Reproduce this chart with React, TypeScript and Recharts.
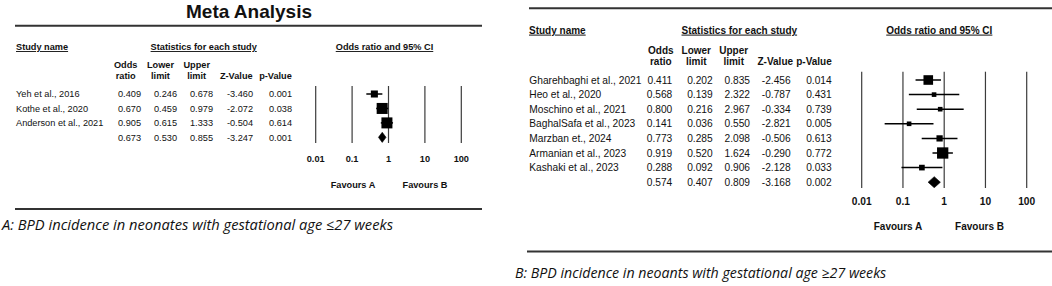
import React from "react";
import {
  Area,
  ComposedChart,
  ErrorBar,
  ReferenceLine,
  Scatter,
  XAxis,
  YAxis,
} from "recharts";

// A: gestational age <=27 weeks
const studiesA = ["Yeh et al., 2016", "Kothe et al., 2020", "Anderson et al., 2021"];
const oddsA = [0.409, 0.67, 0.905];
const lowerA = [0.246, 0.459, 0.615];
const upperA = [0.678, 0.979, 1.333];
const zA = [-3.46, -2.072, -0.504];
const pA = [0.001, 0.038, 0.614];
const weightA = [17, 41.5, 41.5];
// pooled: odds ratio, lower, upper, Z, p
const pooledA = [0.673, 0.53, 0.855, -3.247, 0.001];

// B: gestational age >=27 weeks
const studiesB = [
  "Gharehbaghi et al., 2021",
  "Heo et al., 2020",
  "Moschino et al., 2021",
  "BaghalSafa et al., 2023",
  "Marzban et., 2024",
  "Armanian et al., 2023",
  "Kashaki et al., 2023",
];
const oddsB = [0.411, 0.568, 0.8, 0.141, 0.773, 0.919, 0.288];
const lowerB = [0.202, 0.139, 0.216, 0.036, 0.285, 0.52, 0.092];
const upperB = [0.835, 2.322, 2.967, 0.55, 2.098, 1.624, 0.906];
const zB = [-2.456, -0.787, -0.334, -2.821, -0.506, -0.29, -2.128];
const pB = [0.014, 0.431, 0.739, 0.005, 0.613, 0.772, 0.033];
const weightB = [26, 6, 6, 6, 11, 36, 9];
const pooledB = [0.574, 0.407, 0.809, -3.168, 0.002];

const axisTicks = [0.01, 0.1, 1, 10, 100];

const FONT = '"Liberation Sans", Arial, sans-serif';
const CAPTION_FONT = '"Open Sans", Lato, sans-serif';

type Row = {
  name: string;
  x: number;
  y: number;
  lo: number;
  hi: number;
  z: number;
  p: number;
  err: number[];
  side: number;
};

function buildRows(
  names: string[],
  odds: number[],
  lower: number[],
  upper: number[],
  z: number[],
  p: number[],
  weight: number[],
  pooled: number[],
  maxSide: number
): Row[] {
  const maxW = Math.max(...weight);
  const rows = names.map((name, i) => ({
    name,
    x: odds[i],
    y: i,
    lo: lower[i],
    hi: upper[i],
    z: z[i],
    p: p[i],
    err: [odds[i] - lower[i], upper[i] - odds[i]],
    side: maxSide * Math.sqrt(weight[i] / maxW),
  }));
  rows.push({
    name: "",
    x: pooled[0],
    y: names.length,
    lo: pooled[1],
    hi: pooled[2],
    z: pooled[3],
    p: pooled[4],
    err: [0, 0],
    side: 0,
  });
  return rows;
}

type PanelProps = {
  rows: Row[];
  left: number;
  width: number;
  plotLeft: number;
  plotRight: number;
  plotTop: number;
  plotBottom: number;
  rowFirst: number;
  rowStep: number;
  fontSize: number;
  cols: number[];
  diamondHalf: number;
  tickDy: number;
};

function ForestPanel(props: PanelProps) {
  const {
    rows,
    left,
    width,
    plotLeft,
    plotRight,
    plotTop,
    plotBottom,
    rowFirst,
    rowStep,
    fontSize,
    cols,
    diamondHalf,
    tickDy,
  } = props;

  const axisHeight = 32;
  const height = plotBottom + axisHeight;
  const yMin = -(rowFirst - plotTop) / rowStep;
  const yMax = (plotBottom - rowFirst) / rowStep;

  const studies = rows.slice(0, rows.length - 1);
  const pooled = rows[rows.length - 1];
  const diamond = [
    { x: pooled.lo, band: [pooled.y, pooled.y] },
    { x: pooled.x, band: [pooled.y - diamondHalf, pooled.y + diamondHalf] },
    { x: pooled.hi, band: [pooled.y, pooled.y] },
  ];

  const fmt = (v: number) => v.toFixed(3);

  const rowTick = (tp: any) => {
    const r = rows[tp.payload.value];
    if (!r) return <g />;
    const y = tp.y;
    return (
      <g fontSize={fontSize} fill="#111" fontFamily={FONT}>
        <text x={cols[0]} y={y} dy="0.36em">
          {r.name}
        </text>
        <text x={cols[1]} y={y} dy="0.36em" textAnchor="end">
          {fmt(r.x)}
        </text>
        <text x={cols[2]} y={y} dy="0.36em" textAnchor="end">
          {fmt(r.lo)}
        </text>
        <text x={cols[3]} y={y} dy="0.36em" textAnchor="end">
          {fmt(r.hi)}
        </text>
        <text x={cols[4]} y={y} dy="0.36em" textAnchor="end">
          {fmt(r.z)}
        </text>
        <text x={cols[5]} y={y} dy="0.36em" textAnchor="end">
          {fmt(r.p)}
        </text>
      </g>
    );
  };

  const xTick = (tp: any) => (
    <text
      x={tp.x}
      y={tp.y + tickDy}
      textAnchor="middle"
      fontSize={fontSize}
      fontWeight="bold"
      fontFamily={FONT}
      fill="#111"
    >
      {String(tp.payload.value)}
    </text>
  );

  const square = (sp: any) => {
    const s = sp.payload.side;
    return (
      <rect
        x={sp.cx - s / 2}
        y={sp.cy - s / 2}
        width={s}
        height={s}
        fill="#000"
      />
    );
  };

  return (
    <div style={{ position: "absolute", left, top: 0 }}>
      <ComposedChart
        width={width}
        height={height}
        data={diamond}
        margin={{ top: plotTop, right: width - plotRight, bottom: 0, left: 0 }}
      >
        <XAxis
          type="number"
          dataKey="x"
          scale="log"
          domain={[0.01, 100]}
          ticks={axisTicks}
          interval={0}
          allowDataOverflow
          axisLine={false}
          tickLine={false}
          height={axisHeight}
          tick={xTick}
        />
        <YAxis
          type="number"
          dataKey="y"
          domain={[yMin, yMax]}
          reversed
          ticks={rows.map((r) => r.y)}
          interval={0}
          allowDataOverflow
          axisLine={false}
          tickLine={false}
          width={plotLeft}
          tick={rowTick}
        />
        {axisTicks.map((t) => (
          <ReferenceLine key={t} x={t} stroke="#3c3c3c" strokeWidth={1.2} />
        ))}
        <Area
          type="linear"
          dataKey="band"
          stroke="#000"
          strokeWidth={0.6}
          fill="#000"
          fillOpacity={1}
          dot={false}
          activeDot={false}
          isAnimationActive={false}
        />
        <Scatter data={studies} shape={square} fill="#000" isAnimationActive={false}>
          <ErrorBar
            dataKey="err"
            direction="x"
            width={0}
            stroke="#000"
            strokeWidth={1.5}
            isAnimationActive={false}
          />
        </Scatter>
      </ComposedChart>
    </div>
  );
}

function Labels() {
  const bold = { fontWeight: "bold" as const };
  const ul = { textDecoration: "underline" };
  return (
    <svg
      width={1052}
      height={286}
      style={{ position: "absolute", left: 0, top: 0 }}
      fontFamily={FONT}
      fill="#111"
    >
      {/* panel A */}
      <text x={249} y={17.5} textAnchor="middle" fontSize={19} style={bold}>
        Meta Analysis
      </text>
      <line x1={15} x2={482} y1={25.7} y2={25.7} stroke="#333" strokeWidth={2} />
      <g fontSize={9.2} style={bold}>
        <text x={16} y={50} style={{ ...bold, ...ul }}>
          Study name
        </text>
        <text x={203.7} y={50} textAnchor="middle" style={{ ...bold, ...ul }}>
          Statistics for each study
        </text>
        <text x={384.5} y={50} textAnchor="middle" style={{ ...bold, ...ul }}>
          Odds ratio and 95% CI
        </text>
        <text x={125.7} y={68.3} textAnchor="middle">Odds</text>
        <text x={125.7} y={79.3} textAnchor="middle">ratio</text>
        <text x={160.5} y={68.3} textAnchor="middle">Lower</text>
        <text x={160.5} y={79.3} textAnchor="middle">limit</text>
        <text x={196.7} y={68.3} textAnchor="middle">Upper</text>
        <text x={196.7} y={79.3} textAnchor="middle">limit</text>
        <text x={236.3} y={79.3} textAnchor="middle">Z-Value</text>
        <text x={275.5} y={79.3} textAnchor="middle">p-Value</text>
        <text x={353} y={188.3} textAnchor="middle">Favours A</text>
        <text x={425} y={188.3} textAnchor="middle">Favours B</text>
      </g>
      <line x1={15} x2={482} y1={209} y2={209} stroke="#333" strokeWidth={2} />
      <text
        x={2}
        y={230}
        fontSize={14.7}
        fontStyle="italic"
        fontFamily={CAPTION_FONT}
      >
        A: BPD incidence in neonates with gestational age ≤27 weeks
      </text>

      {/* panel B */}
      <line x1={529} x2={1052} y1={8.3} y2={8.3} stroke="#333" strokeWidth={2} />
      <g fontSize={10} style={bold}>
        <text x={529} y={33.6} style={{ ...bold, ...ul }}>
          Study name
        </text>
        <text x={739.3} y={33.6} textAnchor="middle" style={{ ...bold, ...ul }}>
          Statistics for each study
        </text>
        <text x={939.3} y={33.6} textAnchor="middle" style={{ ...bold, ...ul }}>
          Odds ratio and 95% CI
        </text>
        <text x={660.8} y={53.6} textAnchor="middle">Odds</text>
        <text x={660.8} y={65.3} textAnchor="middle">ratio</text>
        <text x={696.3} y={53.6} textAnchor="middle">Lower</text>
        <text x={696.3} y={65.3} textAnchor="middle">limit</text>
        <text x={733.7} y={53.6} textAnchor="middle">Upper</text>
        <text x={733.7} y={65.3} textAnchor="middle">limit</text>
        <text x={775.3} y={65.3} textAnchor="middle">Z-Value</text>
        <text x={814} y={65.3} textAnchor="middle">p-Value</text>
        <text x={898} y={229.6} textAnchor="middle">Favours A</text>
        <text x={979.5} y={229.6} textAnchor="middle">Favours B</text>
      </g>
      <line x1={527} x2={1052} y1={251.5} y2={251.5} stroke="#333" strokeWidth={2} />
      <text
        x={515}
        y={278}
        fontSize={14.2}
        fontStyle="italic"
        fontFamily={CAPTION_FONT}
      >
        B: BPD incidence in neoants with gestational age ≥27 weeks
      </text>
    </svg>
  );
}

export default function App() {
  const rowsA = buildRows(studiesA, oddsA, lowerA, upperA, zA, pA, weightA, pooledA, 11);
  const rowsB = buildRows(studiesB, oddsB, lowerB, upperB, zB, pB, weightB, pooledB, 11.3);

  return (
    <div
      style={{
        position: "absolute",
        left: 0,
        top: 0,
        width: 1052,
        height: 286,
        background: "#fff",
        overflow: "hidden",
        fontFamily: FONT,
      }}
    >
      <Labels />
      <ForestPanel
        rows={rowsA}
        left={0}
        width={490}
        plotLeft={315.7}
        plotRight={461.3}
        plotTop={86}
        plotBottom={143}
        rowFirst={94}
        rowStep={14.45}
        fontSize={9.2}
        cols={[16, 141, 177, 213, 253, 292]}
        diamondHalf={0.35}
        tickDy={10.5}
      />
      <ForestPanel
        rows={rowsB}
        left={520}
        width={532}
        plotLeft={341.7}
        plotRight={506.7}
        plotTop={71.7}
        plotBottom={188}
        rowFirst={80}
        rowStep={14.6}
        fontSize={10.2}
        cols={[9.3, 152.3, 192.7, 230, 270.7, 311.7]}
        diamondHalf={0.38}
        tickDy={9.4}
      />
    </div>
  );
}
